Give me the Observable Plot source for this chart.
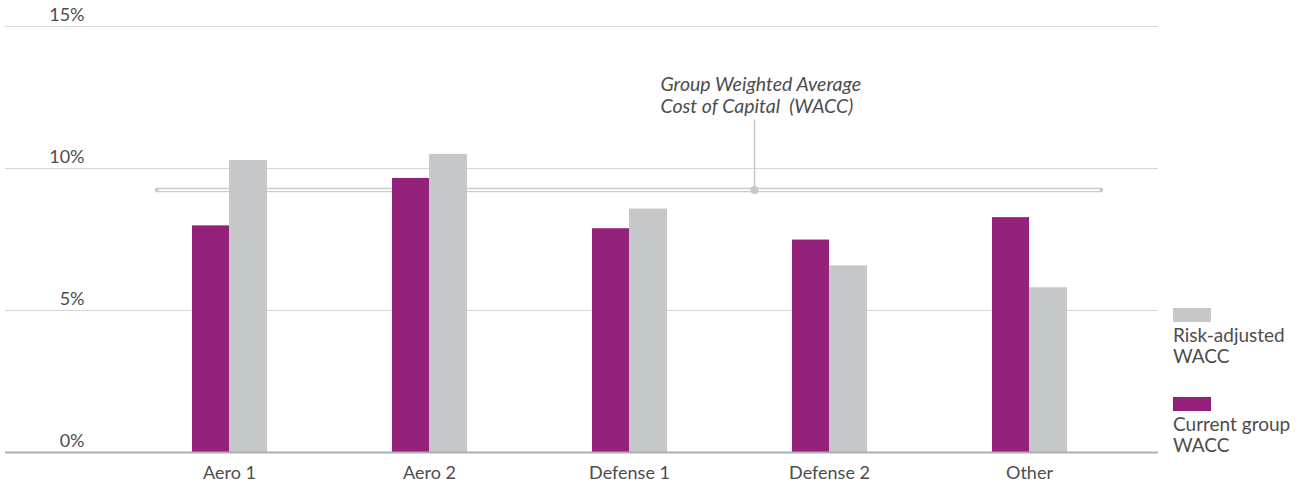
<!DOCTYPE html>
<html>
<head>
<meta charset="utf-8">
<script src="https://cdn.jsdelivr.net/npm/d3@7"></script>
<script src="https://cdn.jsdelivr.net/npm/@observablehq/plot@0.6"></script>
<style>
  html, body { margin: 0; padding: 0; background: #fff; }
  #wrap { position: relative; width: 1306px; height: 484px; font-family: Lato, "Open Sans", sans-serif; color: #4d4d4d; }
  #legend { position: absolute; left: 1173px; top: 308px; font-size: 19px; line-height: 21px; }
  .sw { width: 38px; height: 14px; }
  .item { margin-bottom: 31px; }
  .lbl { margin-top: 2px; white-space: nowrap; }
</style>
</head>
<body>
<div id="wrap"></div>
<script>
const categories = ["Aero 1", "Aero 2", "Defense 1", "Defense 2", "Other"];
const currentWACC = [7.98, 9.65, 7.88, 7.48, 8.27];
const riskAdjustedWACC = [10.28, 10.5, 8.57, 6.57, 5.8];
const groupWACC = 9.24;
const yTicks = [0, 5, 10, 15];
const seriesNames = ["Risk-adjusted\nWACC", "Current group\nWACC"];
const seriesColors = ["#c6c7c9", "#94217a"];

const current = categories.map((c, i) => ({cat: c, v: currentWACC[i]}));
const risk = categories.map((c, i) => ({cat: c, v: riskAdjustedWACC[i]}));

const chart = Plot.plot({
  width: 1306,
  height: 484,
  marginLeft: 5,
  marginRight: 148,
  marginTop: 26,
  marginBottom: 32,
  style: {fontFamily: "Lato, 'Open Sans', sans-serif", color: "#4d4d4d", background: "#fff"},
  x: {type: "band", domain: categories, range: [129, 1129], padding: 0, axis: null},
  y: {domain: [0, 15], axis: null},
  marks: [
    Plot.ruleY(yTicks.filter(d => d > 0), {stroke: "#d6d6d6", strokeWidth: 1.2}),
    Plot.ruleY([groupWACC], {stroke: "#c8c9cb", strokeWidth: 4.5, insetLeft: 152, insetRight: 57, strokeLinecap: "round"}),
    Plot.ruleY([groupWACC], {stroke: "#ffffff", strokeWidth: 1.8, insetLeft: 153.5, insetRight: 58.5}),
    Plot.ruleX(["Defense 2"], {x: d => d, y1: groupWACC, y2: 11.7, stroke: "#c6c7c9", strokeWidth: 1.5, dx: -75}),
    Plot.dot(["Defense 2"], {x: d => d, y: groupWACC, r: 4, fill: "#c6c7c9", dx: -75}),
    Plot.text(["Group Weighted Average\nCost of Capital  (WACC)"], {
      x: () => "Defense 2", y: 12.58, dx: -169, textAnchor: "start", lineHeight: 1.13,
      fontSize: 19.5, fontStyle: "italic", fill: "#4d4d4d"
    }),
    Plot.barY(current, {x: "cat", y: "v", fill: seriesColors[1], insetLeft: 63, insetRight: 100}),
    Plot.barY(risk, {x: "cat", y: "v", fill: seriesColors[0], insetLeft: 100, insetRight: 62}),
    Plot.ruleY([0], {stroke: "#b0b0b0", strokeWidth: 2}),
    Plot.text(yTicks, {y: d => d, text: d => d + "%", frameAnchor: "left", lineAnchor: "middle", dx: 79, dy: -11.5, textAnchor: "end", fontSize: 18, fill: "#4d4d4d"}),
    Plot.text(categories, {x: d => d, text: d => d, frameAnchor: "bottom", lineAnchor: "middle", dy: 21, fontSize: 18, fill: "#4d4d4d"})
  ]
});
document.getElementById("wrap").appendChild(chart);

const legend = document.createElement("div");
legend.id = "legend";
seriesNames.forEach((name, i) => {
  const item = document.createElement("div");
  item.className = "item";
  const sw = document.createElement("div");
  sw.className = "sw";
  sw.style.background = seriesColors[i];
  const lbl = document.createElement("div");
  lbl.className = "lbl";
  lbl.innerHTML = name.split("\n").join("<br>");
  item.appendChild(sw);
  item.appendChild(lbl);
  legend.appendChild(item);
});
document.getElementById("wrap").appendChild(legend);
</script>
</body>
</html>
